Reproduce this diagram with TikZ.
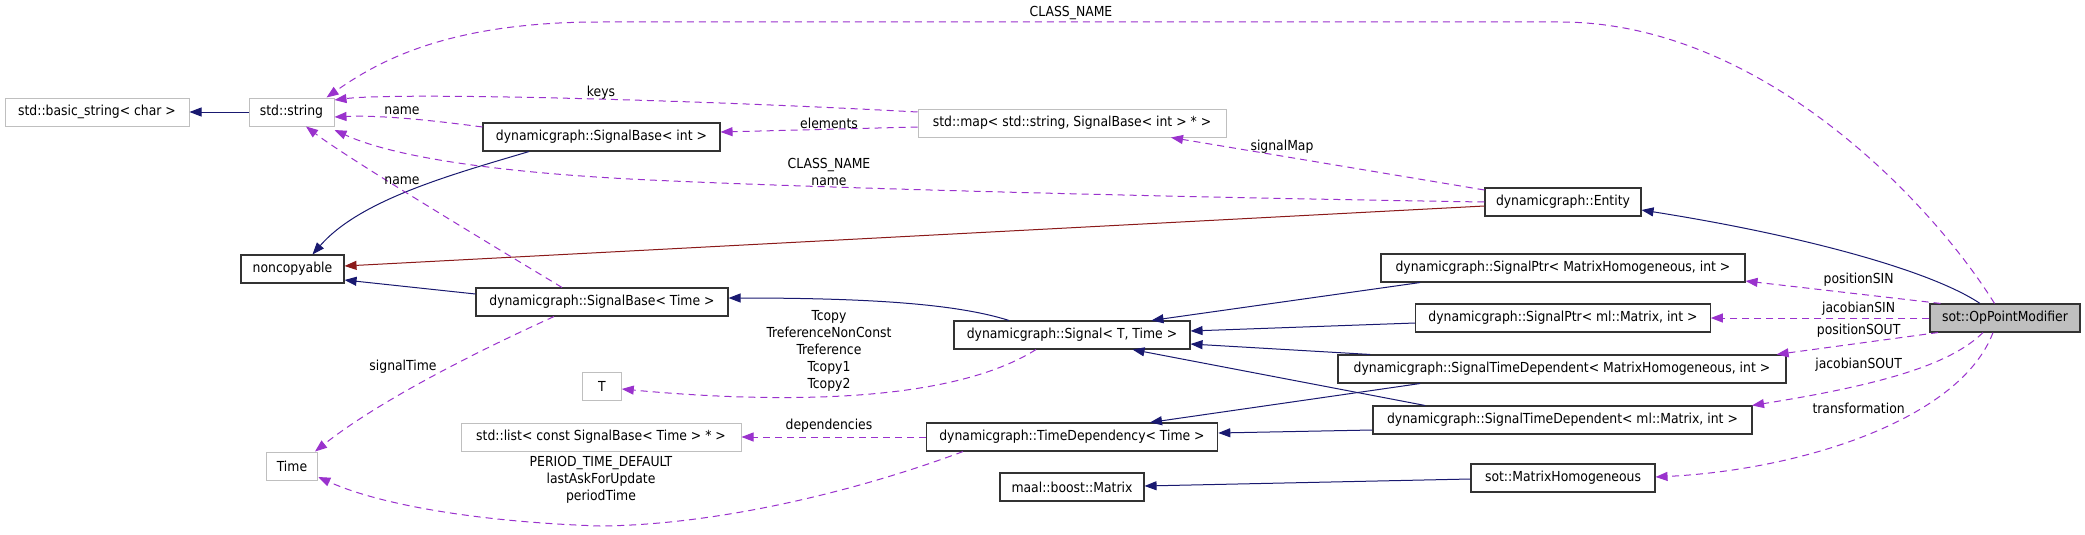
\documentclass[tikz,border=0pt]{standalone}
\usepackage{fontspec}
\setmainfont{DejaVu Sans Condensed}
\usetikzlibrary{arrows.meta,calc}
\definecolor{navy}{RGB}{25,25,112}
\definecolor{orchid}{RGB}{154,50,205}
\definecolor{fire}{RGB}{139,26,26}
\definecolor{ugray}{RGB}{191,191,191}
\newcommand{\dgfont}{\fontsize{13.8}{17}\selectfont}
\tikzset{
  cls/.style={draw=black!80, line width=1.1pt, minimum height=28pt, inner sep=0pt, font=\dgfont, fill=white},
  ucls/.style={cls, draw=ugray, line width=1pt},
  tip/.style={-{Triangle[length=12pt,width=9pt]}},
  inh/.style={draw=navy, line width=1pt, tip},
  prot/.style={draw=fire, line width=1pt, tip},
  use/.style={draw=orchid, line width=1pt, dash pattern=on 7pt off 5pt, tip},
  lbl/.style={font=\dgfont, align=center, inner sep=0pt},
}
\begin{document}
\begin{tikzpicture}[x=1pt,y=-1pt]
\useasboundingbox (0,0) rectangle (2085,535);
\fill[white] (0,0) rectangle (2085,535);
% nodes
\node[ucls, minimum width=184pt] (bstr) at (97,112) {std::basic\_string< char >};
\node[ucls, minimum width=85pt] (str) at (291.5,112) {std::string};
\node[cls, minimum width=237pt] (sbint) at (601.5,137) {dynamicgraph::SignalBase< int >};
\node[cls, minimum width=103pt] (nonc) at (292.5,269) {noncopyable};
\node[cls, minimum width=252pt] (sbtime) at (602,302) {dynamicgraph::SignalBase< Time >};
\node[ucls, minimum width=51.5pt] (time) at (292,466) {Time};
\node[ucls, minimum width=38.5pt] (T) at (602,386) {T};
\node[ucls, minimum width=280pt] (list) at (601,437) {std::list< const SignalBase< Time > * >};
\node[ucls, minimum width=308pt] (map) at (1072,123) {std::map< std::string, SignalBase< int > * >};
\node[cls, minimum width=236pt] (signal) at (1072,335) {dynamicgraph::Signal< T, Time >};
\node[cls, minimum width=291.5pt] (timedep) at (1072,437) {dynamicgraph::TimeDependency< Time >};
\node[cls, minimum width=144pt] (maal) at (1072,487) {maal::boost::Matrix};
\node[cls, minimum width=156pt] (entity) at (1563,202) {dynamicgraph::Entity};
\node[cls, minimum width=364pt] (sptrMH) at (1563,268) {dynamicgraph::SignalPtr< MatrixHomogeneous, int >};
\node[cls, minimum width=294.5pt] (sptrml) at (1563,318) {dynamicgraph::SignalPtr< ml::Matrix, int >};
\node[cls, minimum width=448pt] (stdMH) at (1562,369) {dynamicgraph::SignalTimeDependent< MatrixHomogeneous, int >};
\node[cls, minimum width=379pt] (stdml) at (1562.5,420) {dynamicgraph::SignalTimeDependent< ml::Matrix, int >};
\node[cls, minimum width=184pt] (MH) at (1563,478) {sot::MatrixHomogeneous};
\node[cls, minimum width=150pt, fill=ugray] (opm) at (2005,318) {sot::OpPointModifier};
% inheritance
\draw[inh] (str.west) -- (bstr.east);
\draw[inh] ($(sbint.south)+(-72.5,0)$) .. controls (450,175) and (360,200) .. ($(nonc.north)+(20,0)$);
\draw[prot] ($(entity.west)+(0,4)$) -- ($(nonc.east)+(0,-3)$);
\draw[inh] ($(sbtime.west)+(0,-8)$) -- ($(nonc.east)+(0,11)$);
\draw[inh] ($(signal.north)+(-63,0)$) .. controls (960,305) and (880,298) .. ($(sbtime.east)+(0,-4)$);
\draw[inh] ($(sptrMH.south)+(-143,0)$) -- ($(signal.north)+(79.5,0)$);
\draw[inh] ($(sptrml.west)+(0,5)$) -- ($(signal.east)+(0,-4)$);
\draw[inh] ($(stdMH.north)+(-192,0)$) -- ($(signal.east)+(0,9)$);
\draw[inh] ($(stdMH.south)+(-142,0)$) -- ($(timedep.north)+(78,0)$);
\draw[inh] ($(stdml.north)+(-137.5,0)$) -- ($(signal.south)+(60.5,0)$);
\draw[inh] ($(stdml.west)+(0,10)$) -- ($(timedep.east)+(0,-4)$);
\draw[inh] ($(MH.west)+(0,1)$) -- ($(maal.east)+(0,-1)$);
\draw[inh] ($(opm.north)+(-25,0)$) .. controls (1930,270) and (1800,235) .. ($(entity.east)+(0,8)$);
% usage
\draw[use] ($(opm.north)+(-10.5,0)$) .. controls (1930,200) and (1760,22) .. (1560,22) -- (600,22) .. controls (450,22) and (380,60) .. ($(str.north east)+(-8,0)$);
\draw[use] ($(map.west)+(0,-11)$) .. controls (700,100) and (400,92) .. ($(str.east)+(0,-12)$);
\draw[use] ($(sbint.west)+(0,-10)$) .. controls (430,120) and (380,115) .. ($(str.east)+(0,5)$);
\draw[use] (entity.west) .. controls (1100,196) and (800,187) .. (650,180) .. controls (520,174) and (400,160) .. ($(str.east)+(0,18)$);
\draw[use] ($(sbtime.north)+(-40,0)$) .. controls (500,250) and (350,160) .. ($(str.south)+(14.5,0)$);
\draw[use] ($(map.west)+(0,4)$) -- ($(sbint.east)+(0,-5)$);
\draw[use] ($(entity.west)+(0,-12)$) -- ($(map.south)+(99,0)$);
\draw[use] ($(sbtime.south)+(-48,0)$) .. controls (480,350) and (380,400) .. ($(time.north)+(23,0)$);
\draw[use] ($(signal.south)+(-36,0)$) .. controls (940,410) and (740,400) .. ($(T.east)+(0,3)$);
\draw[use] (timedep.west) -- (list.east);
\draw[use] ($(timedep.south)+(-109,0)$) .. controls (860,490) and (720,525) .. (600,526) .. controls (480,522) and (380,505) .. ($(time.east)+(0,11)$);
\draw[use] ($(opm.north)+(-64.5,0)$) -- ($(sptrMH.east)+(0,13)$);
\draw[use] (opm.west) -- (sptrml.east);
\draw[use] ($(opm.south)+(-67,0)$) -- ($(stdMH.north)+(214.6,0)$);
\draw[use] ($(opm.south)+(-22,0)$) .. controls (1950,365) and (1880,385) .. ($(stdml.north)+(189.5,0)$);
\draw[use] ($(opm.south)+(-12,0)$) .. controls (1960,420) and (1800,470) .. ($(MH.east)+(0,-1)$);
% labels
\node[lbl] (l1) at (1071,13) {CLASS\_NAME};
\node[lbl] (l2) at (601,93) {keys};
\node[lbl] (l3) at (402,111) {name};
\node[lbl] (l4) at (829,123) {elements};
\node[lbl] (l5) at (1282,147) {signalMap};
\node[lbl] (l6) at (829,171.5) {CLASS\_NAME\\name};
\node[lbl] (l7) at (402,181) {name};
\node[lbl] (l8) at (403,367) {signalTime};
\node[lbl] (l9) at (829,351) {Tcopy\\TreferenceNonConst\\Treference\\Tcopy1\\Tcopy2};
\node[lbl] (l10) at (829,426) {dependencies};
\node[lbl] (l11) at (601,480) {PERIOD\_TIME\_DEFAULT\\lastAskForUpdate\\periodTime};
\node[lbl] (l12) at (1858.6,280) {positionSIN};
\node[lbl] (l13) at (1858.6,309) {jacobianSIN};
\node[lbl] (l14) at (1858.6,331) {positionSOUT};
\node[lbl] (l15) at (1858.6,365) {jacobianSOUT};
\node[lbl] (l16) at (1858.6,408) {transformation};
\end{tikzpicture}
\end{document}
